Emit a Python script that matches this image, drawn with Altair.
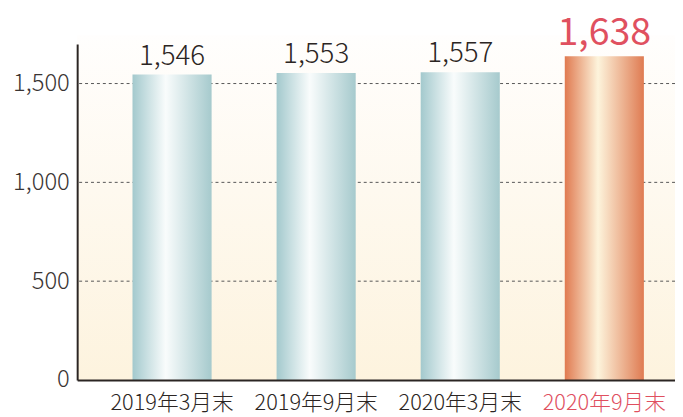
import altair as alt
import pandas as pd

categories = ["2019年3月末", "2019年9月末", "2020年3月末", "2020年9月末"]
values = [1546, 1553, 1557, 1638]
labels = ["1,546", "1,553", "1,557", "1,638"]
highlight = [False, False, False, True]
grid_values = [500, 1000, 1500]
y_ticks = [0, 500, 1000, 1500]

df = pd.DataFrame({"cat": categories, "value": values, "label": labels, "hl": highlight})
grid_df = pd.DataFrame({"v": grid_values})
bg_df = pd.DataFrame({"a": [0]})

W, H = 605, 340
FONT = "Noto Sans CJK JP"
DARK = "#2b2523"
RED = "#e0505f"

teal = {"gradient": "linear", "x1": 0, "x2": 1, "y1": 0, "y2": 0,
        "stops": [{"offset": 0, "color": "#a3c9cd"},
                  {"offset": 0.42, "color": "#f9fcfc"},
                  {"offset": 1, "color": "#a6cacd"}]}
orange = {"gradient": "linear", "x1": 0, "x2": 1, "y1": 0, "y2": 0,
          "stops": [{"offset": 0, "color": "#e07a50"},
                    {"offset": 0.42, "color": "#fdf4dc"},
                    {"offset": 1, "color": "#df7b52"}]}
bg_grad = {"gradient": "linear", "x1": 0, "x2": 0, "y1": 0, "y2": 1,
           "stops": [{"offset": 0, "color": "#fffefd"},
                     {"offset": 1, "color": "#fdf3de"}]}

x_enc = alt.X("cat:N", sort=categories,
              scale=alt.Scale(paddingInner=0.451, paddingOuter=0.30, align=0.64),
              axis=alt.Axis(title=None, labelAngle=0, ticks=False, labelPadding=13,
                            labelFont=FONT, labelFontSize=22, labelFontWeight=300,
                            domainColor=DARK, domainWidth=2, zindex=1,
                            labelColor={"expr": "datum.value == '2020年9月末' ? '%s' : '%s'" % (RED, DARK)}))
y_enc = alt.Y("value:Q", scale=alt.Scale(domain=[0, 1700], nice=False),
              axis=alt.Axis(title=None, values=y_ticks, format=",d", grid=False, ticks=False,
                            labelPadding=8, labelFont=FONT, labelFontSize=24,
                            labelFontWeight=300, labelColor="#3a3433",
                            domainColor=DARK, domainWidth=2, zindex=1))

bg = alt.Chart(bg_df).mark_rect(fill=bg_grad).encode(
    x=alt.value(0), x2=alt.value(W), y=alt.value(-9), y2=alt.value(H))

grid = alt.Chart(grid_df).mark_rule(color="#555555", strokeDash=[3, 3], strokeWidth=1).encode(
    y=alt.Y("v:Q", scale=alt.Scale(domain=[0, 1700], nice=False)))

base = alt.Chart(df).encode(x=x_enc, y=y_enc)

bars_gray = base.transform_filter("!datum.hl").mark_bar(fill=teal)
bars_red = base.transform_filter("datum.hl").mark_bar(fill=orange)

text_gray = base.transform_filter("!datum.hl").mark_text(
    font=FONT, fontSize=28, color=DARK, dy=-10, baseline="alphabetic", fontWeight=300
).encode(text="label:N")
text_red = base.transform_filter("datum.hl").mark_text(
    font=FONT, fontSize=38, color=RED, dy=-11, baseline="alphabetic", fontWeight=400
).encode(text="label:N")

chart = alt.layer(bg, grid, bars_gray, bars_red, text_gray, text_red).properties(
    width=W, height=H,
    autosize=alt.AutoSizeParams(type="none"),
    padding={"left": 70, "top": 34, "right": 0, "bottom": 35},
    background="white",
).configure_view(stroke=None)

chart.save("out.html", embed_options={"renderer": "svg", "actions": False})
